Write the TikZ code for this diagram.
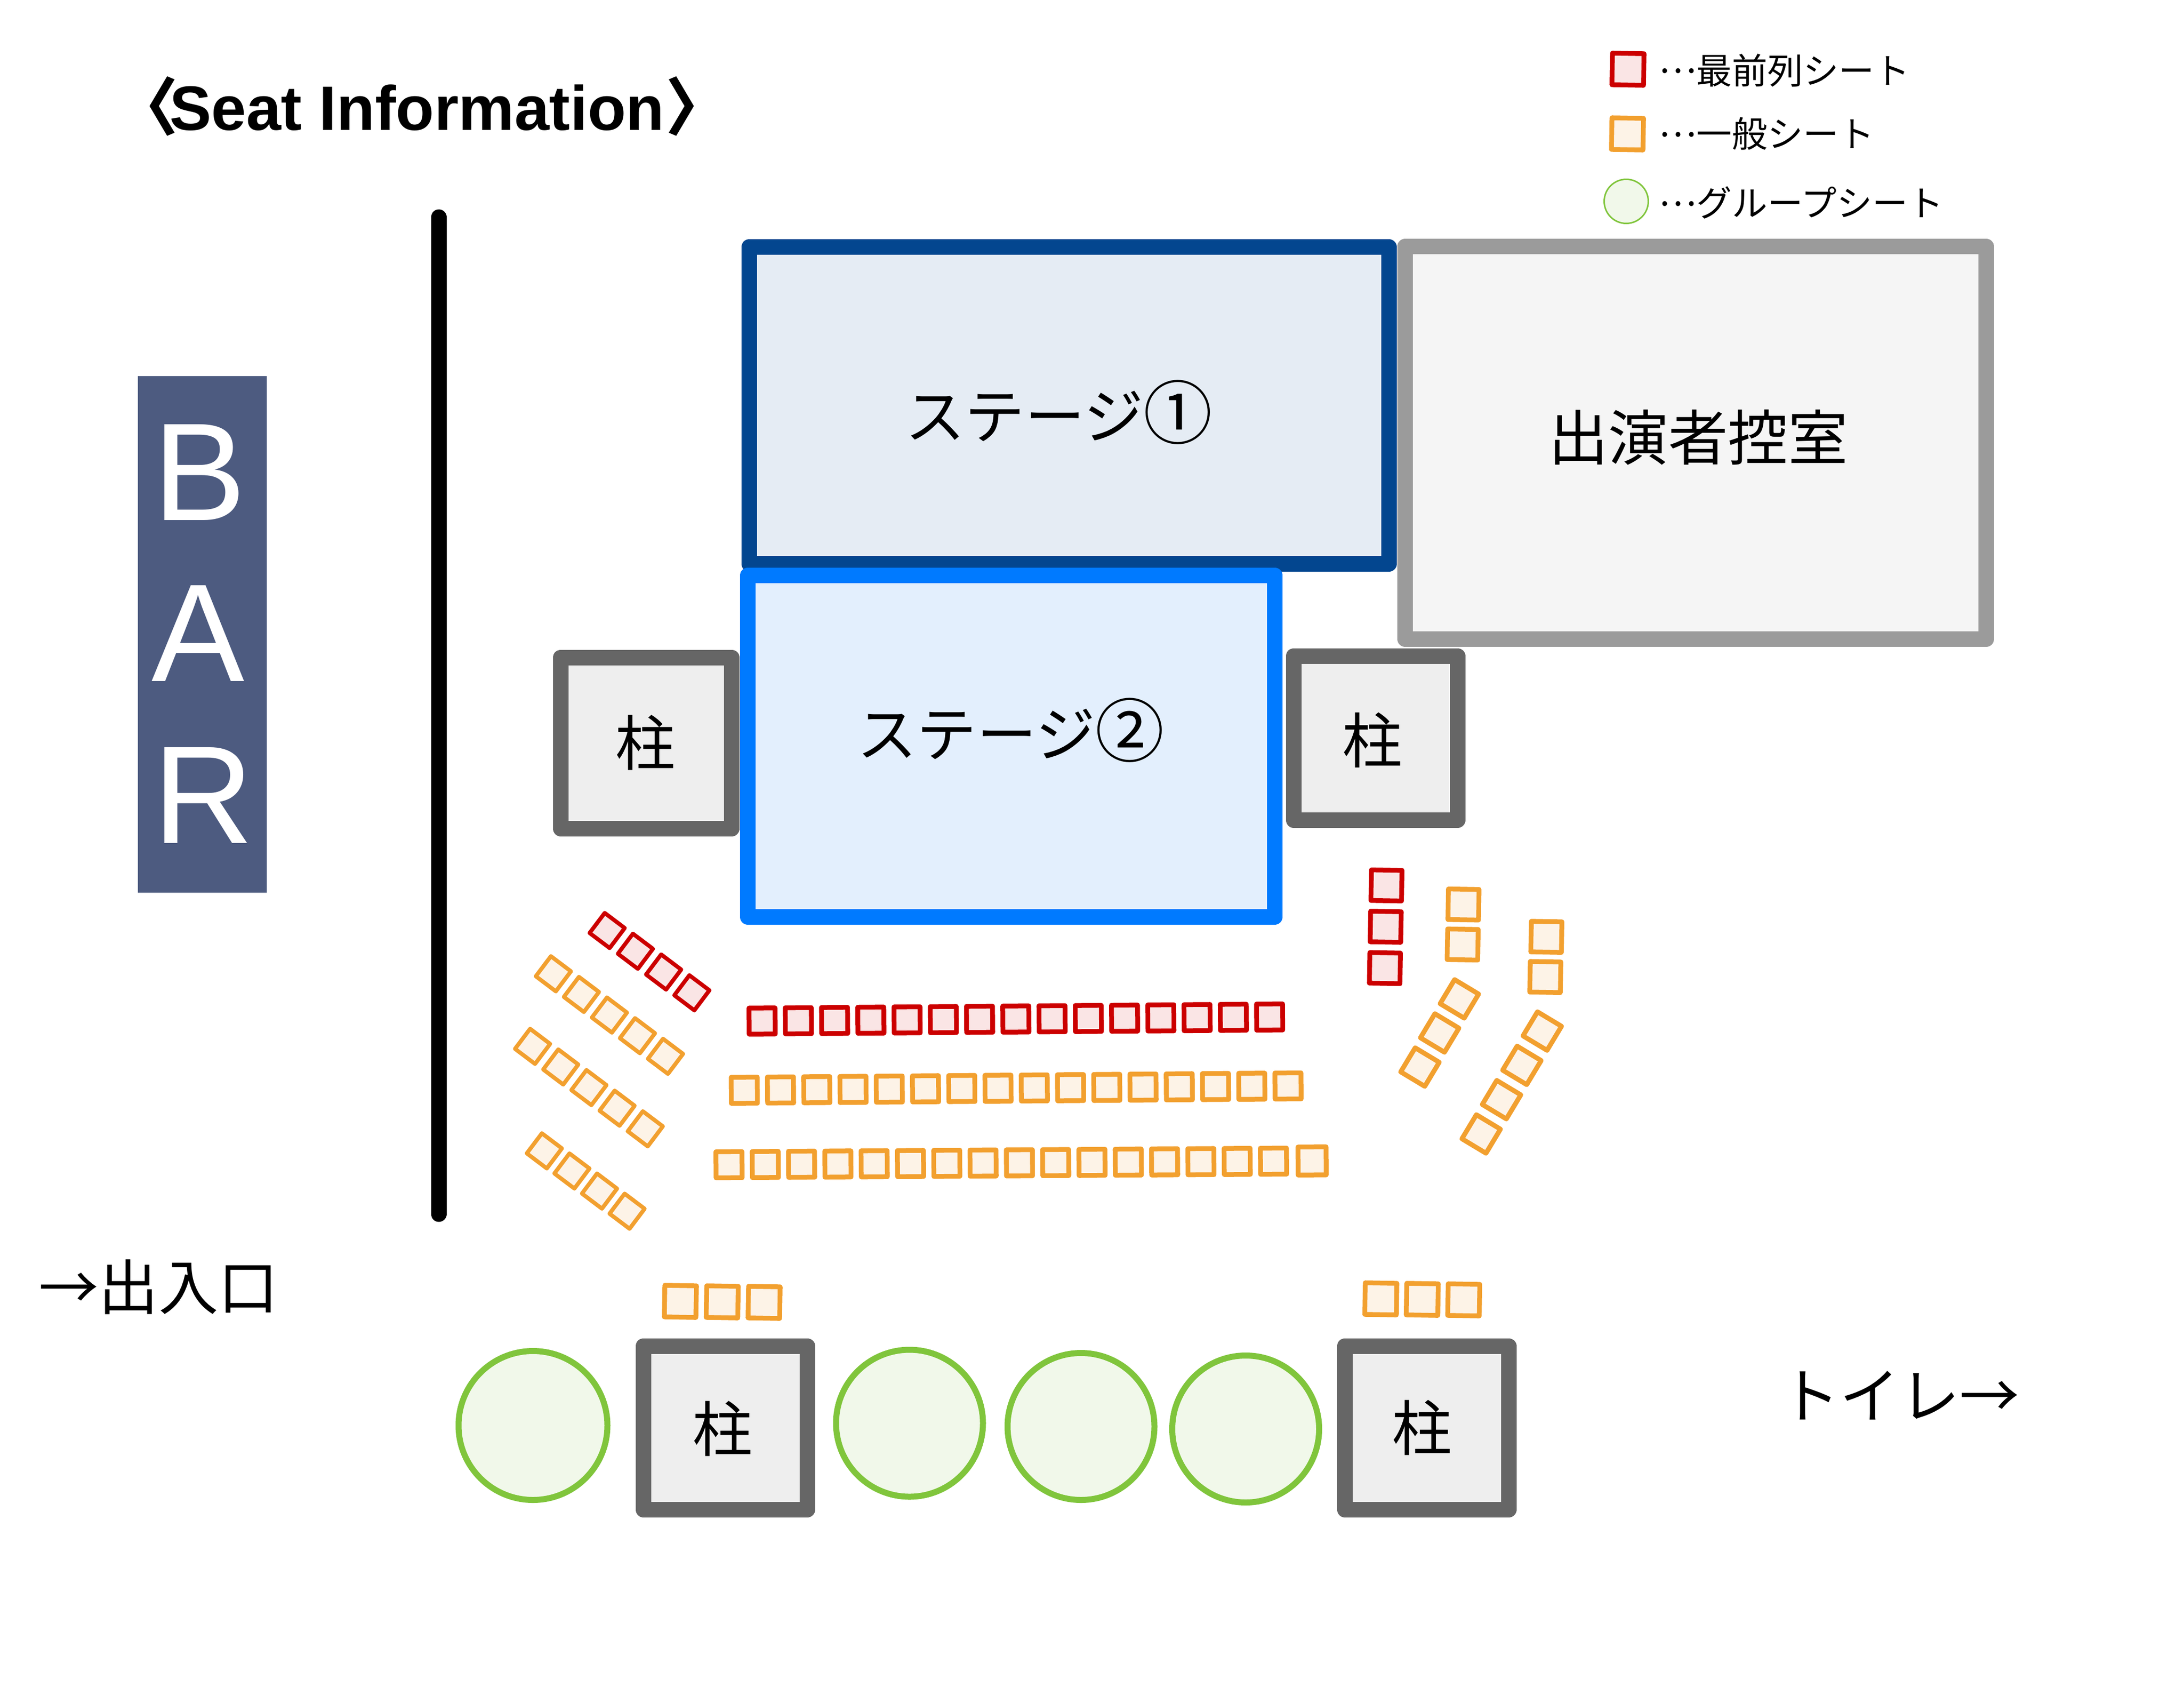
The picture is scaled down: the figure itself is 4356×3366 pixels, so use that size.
\documentclass[tikz,border=0pt]{standalone}
\usepackage{fontspec}
\setmainfont{Noto Sans CJK JP}
\newfontfamily\latinfont{Liberation Sans}
\usetikzlibrary{positioning}

\definecolor{barblue}{HTML}{4D5B80}
\definecolor{stageonec}{HTML}{03468F}
\definecolor{stageonef}{HTML}{E5ECF4}
\definecolor{stagetwoc}{HTML}{007AFF}
\definecolor{stagetwof}{HTML}{E3EFFD}
\definecolor{roomc}{HTML}{9B9B9B}
\definecolor{roomf}{HTML}{F5F5F5}
\definecolor{pillarc}{HTML}{666666}
\definecolor{pillarf}{HTML}{EEEEEE}
\definecolor{frontc}{HTML}{CC0000}
\definecolor{frontf}{HTML}{FAE5E5}
\definecolor{genc}{HTML}{F2A02F}
\definecolor{genf}{HTML}{FDF3E7}
\definecolor{groupc}{HTML}{80C53C}
\definecolor{groupf}{HTML}{F1F8EA}

\def\unitpx{0.05mm}
\newcommand{\middots}{\raisebox{0.3em}{…}}
\newcommand{\bigdigit}[1]{{\fontsize{19.6}{20}\selectfont #1}}
\tikzset{
  box/.style={draw, rectangle, line join=round, inner sep=0pt, outer sep=0pt, line width=31*\unitpx},
  pillar/.style={box, draw=pillarc, fill=pillarf},
  seatbox/.style={draw, rectangle, inner sep=0pt, outer sep=0pt, line join=round, line width=9.5*\unitpx, minimum size=#1*\unitpx},
  frontseat/.style={seatbox=#1, draw=frontc, fill=frontf},
  genseat/.style={seatbox=#1, draw=genc, fill=genf},
  groupseat/.style={draw=groupc, fill=groupf, circle, inner sep=0pt, outer sep=0pt, line width=12*\unitpx, minimum size=#1*\unitpx},
  biglabel/.style={inner sep=0pt, font=\fontsize{17}{20}\selectfont},
  keylabel/.style={inner sep=0pt, anchor=west, font=\fontsize{10.1}{12}\selectfont},
  barletter/.style={inner sep=0pt, anchor=base west, text=white, font=\latinfont\fontsize{39.5}{42}\selectfont}
}

\begin{document}
\begin{tikzpicture}[x=\unitpx, y=-\unitpx]
  \useasboundingbox (0,0) rectangle (4356,3366);

  % Title and legend
  \node[inner sep=0pt, anchor=west, font=\bfseries\fontsize{17.8}{20}\selectfont] (title) at (229,212)
    {〈\kern-0.14em{\latinfont Seat Information}\kern0.02em〉};
  \node[frontseat=63, rotate=-1] (keyfront) at (3247,138) {};
  \node[genseat=63, rotate=-1] (keygen) at (3246,267) {};
  \node[groupseat=88, line width=3*\unitpx] (keygroup) at (3243.5,401.5) {};
  \node[keylabel] (keyfrontlab) at (3307,140) {\middots 最前列シート};
  \node[keylabel] (keygenlab) at (3307,267) {\middots 一般シート};
  \node[keylabel] (keygrouplab) at (3307,404) {\middots グループシート};

  % Bar and wall
  \node[fill=barblue, inner sep=0pt, minimum width=257*\unitpx, minimum height=1030*\unitpx] (bar) at (403.5,1265) {};
  \node[barletter] (barB) at (304,1037) {B};
  \node[barletter] (barA) at (301,1358) {A};
  \node[barletter] (barR) at (304,1681) {R};
  \coordinate (walltop) at (875,433);
  \coordinate (wallbot) at (875,2421);
  \draw[line width=31*\unitpx, line cap=round] (walltop) -- (wallbot);

  % Stages and green room
  \node[box, draw=stageonec, fill=stageonef, minimum width=1276*\unitpx, minimum height=632*\unitpx] (stageone) at (2132,808.5) {};
  \node[box, draw=roomc, fill=roomf, minimum width=1158.5*\unitpx, minimum height=783*\unitpx] (room) at (3382,883) {};
  \node[box, draw=stagetwoc, fill=stagetwof, minimum width=1050.5*\unitpx, minimum height=681.5*\unitpx] (stagetwo) at (2017,1488) {};
  \node[biglabel] (stageonelab) at (2112,822) {ステージ\bigdigit{①}};
  \node[biglabel] (stagetwolab) at (2016,1456) {ステージ\bigdigit{②}};
  \node[biglabel] (roomlab) at (3387,872) {出演者控室};

  % Pillars
  \node[pillar, minimum width=341.5*\unitpx, minimum height=341*\unitpx] (pilA) at (1288.75,1481.5) {};
  \node[pillar, minimum width=327*\unitpx, minimum height=327*\unitpx] (pilB) at (2743.5,1471.5) {};
  \node[pillar, minimum width=327*\unitpx, minimum height=326*\unitpx] (pilC) at (1446.5,2847) {};
  \node[pillar, minimum width=327*\unitpx, minimum height=326*\unitpx] (pilD) at (2845.5,2847) {};
  \node[biglabel] (pilAlab) at (1287,1481) {柱};
  \node[biglabel] (pilBlab) at (2737,1476) {柱};
  \node[biglabel] (pilClab) at (1441,2849) {柱};
  \node[biglabel] (pilDlab) at (2836,2847) {柱};

  % Centre rows
  \foreach \i in {0,...,14}
    \node[frontseat=52, rotate=0.45] (fr\i) at ({1520+\i*72.3},{2036-\i*0.57}) {};
  \foreach \i in {0,...,15}
    \node[genseat=52, rotate=0.45] (ga\i) at ({1484.5+\i*72.3},{2174-\i*0.57}) {};
  \foreach \i in {0,...,15}
    \node[genseat=52, rotate=0.45] (gb\i) at ({1454+\i*72.4},{2322.5-\i*0.47}) {};
  \node[genseat=56, rotate=0.45] (gb16) at (2617,2315) {};

  % Left rows
  \foreach \i in {0,...,3}
    \node[frontseat=50, line width=8*\unitpx, rotate=-37] (lf\i) at ({1211+\i*56.3},{1855.5+\i*41.4}) {};
  \foreach \i in {0,...,4}
    \node[genseat=50, line width=8*\unitpx, rotate=-37] (la\i) at ({1103.7+\i*55.9},{1941.8+\i*41.15}) {};
  \foreach \i in {0,...,4}
    \node[genseat=50, line width=8*\unitpx, rotate=-37] (lb\i) at ({1062.2+\i*56.2},{2086.5+\i*41.1}) {};
  \foreach \i in {0,...,3}
    \node[genseat=50, line width=8*\unitpx, rotate=-37] (lc\i) at ({1085.7+\i*55},{2294.9+\i*40.1}) {};

  % Right rows
  \foreach \i in {0,...,2}
    \node[frontseat=61, rotate=-1] (rf\i) at ({2765.3-\i*1.55},{1765.6+\i*82.4}) {};
  \foreach \i in {0,1}
    \node[genseat=61, rotate=-1] (ra\i) at ({2918.9-\i*1.6},{1803.6+\i*79.8}) {};
  \foreach \i in {0,...,2}
    \node[genseat=56, rotate=-31] (rb\i) at ({2910.7-\i*39.3},{1991.8+\i*68}) {};
  \foreach \i in {0,1}
    \node[genseat=61, rotate=-1] (rc\i) at ({3084.2-\i*2.1},{1868.1+\i*80.1}) {};
  \foreach \i in {0,...,3}
    \node[genseat=56, rotate=-31] (rd\i) at ({3076-\i*40.6},{2056+\i*68.4}) {};

  % Seats above the pillars
  \foreach \i in {0,...,2} {
    \node[genseat=63, rotate=-1] (ue\i) at ({1357+\i*83.5},{2595+\i*1}) {};
    \node[genseat=63, rotate=-1] (uw\i) at ({2754+\i*82.7},{2590+\i*1}) {};
  }

  % Group seats
  \node[groupseat=297] (grA) at (1063,2842.5) {};
  \node[groupseat=293] (grB) at (1814,2838) {};
  \node[groupseat=293] (grC) at (2156,2844.5) {};
  \node[groupseat=293] (grD) at (2484.5,2849.5) {};

  % Ways out
  \node[biglabel] (entrance) at (316,2566) {→出入口};
  \node[biglabel] (toilet) at (3789,2783) {トイレ→};
\end{tikzpicture}
\end{document}
